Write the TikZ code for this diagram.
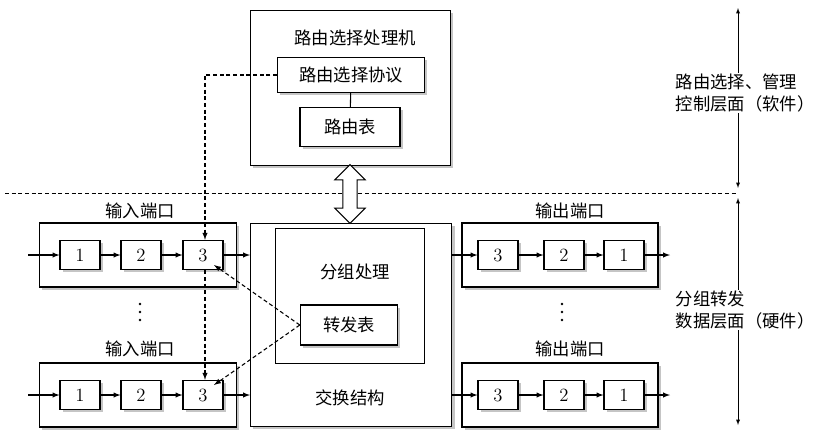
\documentclass[tikz,border=0pt]{standalone}
\usepackage{fontspec}
\newfontfamily\cjk{Noto Sans CJK SC}
\usetikzlibrary{shapes.arrows,shadows}
\tikzset{
  blk/.style={draw, thick, fill=white, drop shadow={shadow xshift=2pt, shadow yshift=-2pt, fill=black!45}},
  txt/.style={font=\cjk\fontsize{13}{16}\selectfont},
  q/.style={blk, minimum width=30pt, minimum height=22pt, inner sep=0pt, font=\fontsize{14}{15}\selectfont},
  arr/.style={-latex, thick},
  dsh/.style={densely dashed, thick},
  dot/.style={circle, fill, inner sep=0pt, minimum size=2.2pt},
}
\begin{document}
\begin{tikzpicture}[x=0.75pt, y=-0.75pt]
\useasboundingbox (0,0) rectangle (831,437);
% router processor
\node[blk, minimum width=150pt, minimum height=116pt, anchor=north west] (rp) at (250,10) {};
\node[txt] (rpt) at (355,38) {路由选择处理机};
\node[blk, txt, minimum width=110pt, minimum height=26pt, inner sep=0pt] (proto) at (351,75) {路由选择协议};
\node[blk, txt, minimum width=75pt, minimum height=29pt, inner sep=0pt] (rtab) at (350,127) {路由表};
\draw[thick] (proto) -- (rtab);
% planes
\draw[densely dashed] (5,193) -- (738,193);
\draw[latex-latex] (738,8) -- (738,188);
\draw[latex-latex] (738,198) -- (738,425);
\node[txt, fill=white, align=left, inner sep=1pt] (ctl) at (745,93) {路由选择、管理\\控制层面（软件）};
\node[txt, fill=white, align=left, inner sep=1pt] (dat) at (745,310) {分组转发\\数据层面（硬件）};
% switch fabric
\node[blk, minimum width=151pt, minimum height=152pt, anchor=north west] (sf) at (250,223) {};
\node[draw, thick, fill=white, minimum width=112pt, minimum height=101pt, anchor=north west] (pp) at (275,228) {};
\node[txt] (ppt) at (355,272) {分组处理};
\node[blk, txt, minimum width=73pt, minimum height=30pt, inner sep=0pt] (ftab) at (349,325) {转发表};
\node[txt] (sft) at (350,398) {交换结构};
\node[double arrow, draw, thick, fill=white, shape border rotate=90, minimum width=20pt, minimum height=44pt, double arrow head extend=6pt, inner sep=5pt] (da) at (350,194) {};
% input ports
\foreach \r/\y/\ly in {a/255/211, b/395/349} {
  \node[blk, minimum width=148pt, minimum height=48pt] (in\r) at (138,\y) {};
  \node[txt] (inl\r) at (140,\ly) {输入端口};
  \node[q] (i1\r) at (80,\y) {1};
  \node[q] (i2\r) at (141,\y) {2};
  \node[q] (i3\r) at (203,\y) {3};
  \coordinate (is\r) at (28,\y);
  \coordinate (ie\r) at (250,\y);
  \draw[arr] (is\r) -- (i1\r);
  \draw[arr] (i1\r) -- (i2\r);
  \draw[arr] (i2\r) -- (i3\r);
  \draw[arr] (i3\r) -- (ie\r);
  % output ports
  \node[blk, minimum width=147pt, minimum height=48pt] (out\r) at (560,\y) {};
  \node[txt] (outl\r) at (570,\ly) {输出端口};
  \node[q] (o3\r) at (498,\y) {3};
  \node[q] (o2\r) at (564,\y) {2};
  \node[q] (o1\r) at (624,\y) {1};
  \coordinate (os\r) at (452,\y);
  \coordinate (oe\r) at (670,\y);
  \draw[arr] (os\r) -- (o3\r);
  \draw[arr] (o3\r) -- (o2\r);
  \draw[arr] (o2\r) -- (o1\r);
  \draw[arr] (o1\r) -- (oe\r);
}
\foreach \k/\yy in {1/304, 2/312, 3/320} {
  \node[dot] (dl\k) at (140,\yy) {};
  \node[dot] (dr\k) at (562,\yy) {};
}
% control paths
\coordinate (c1) at (205,75);
\draw[dsh, -latex] (proto.west) -- (c1) -- (i3a.north -| c1);
\draw[dsh, -latex] (i3a.south -| c1) -- (i3b.north -| c1);
\coordinate (t1) at (214,265);
\coordinate (t2) at (214,385);
\draw[dsh, -latex] (ftab.west) -- (t1);
\draw[dsh, -latex] (ftab.west) -- (t2);
\end{tikzpicture}
\end{document}
